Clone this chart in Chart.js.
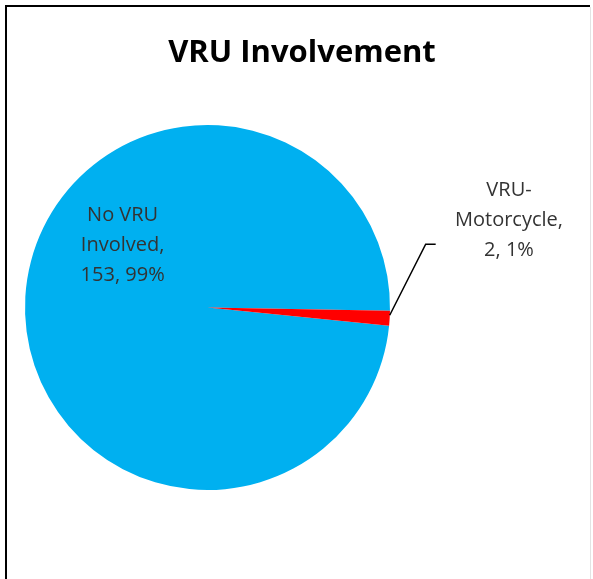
<!DOCTYPE html>
<html>
<head>
<meta charset="utf-8">
<script src="https://cdn.jsdelivr.net/npm/chart.js@4"></script>
<style>
  html, body { margin: 0; padding: 0; background: #fff; }
  #wrap { position: absolute; left: 0; top: 0; width: 593px; height: 579px; }
</style>
</head>
<body>
<div id="wrap"><canvas id="pieChart" width="593" height="579"></canvas></div>
<script>
// DATOS
const titulo = "VRU Involvement";
const categorias = ["No VRU Involved", "VRU-Motorcycle"];
const valores = [153, 2];
const porcentajes = ["99%", "1%"];
const colores = ["#00B0F0", "#FF0000"];

// etiquetas de Excel partidas en lineas
const lineasEtiqueta = [
  ["No VRU", "Involved,", valores[0] + ", " + porcentajes[0]],
  ["VRU-", "Motorcycle,", valores[1] + ", " + porcentajes[1]],
];

// PLUGIN: borde, titulo y etiquetas
const decoracion = {
  id: "decoracion",
  beforeDraw(chart) {
    const { ctx } = chart;
    ctx.save();
    ctx.fillStyle = "#fff";
    ctx.fillRect(0, 0, chart.width, chart.height);
    ctx.strokeStyle = "#e3e3e3";
    ctx.lineWidth = 1;
    ctx.beginPath();
    ctx.moveTo(590.5, 7);
    ctx.lineTo(590.5, chart.height);
    ctx.stroke();
    ctx.strokeStyle = "#000";
    ctx.lineWidth = 2;
    ctx.beginPath();
    ctx.moveTo(6, chart.height);
    ctx.lineTo(6, 6);
    ctx.lineTo(590, 6);
    ctx.stroke();
    ctx.restore();
  },
  afterDraw(chart) {
    const { ctx } = chart;
    const arcs = chart.getDatasetMeta(0).data;
    ctx.save();

    // titulo
    ctx.font = "bold 31px 'Open Sans'";
    ctx.fillStyle = "#000";
    ctx.textAlign = "center";
    ctx.textBaseline = "alphabetic";
    ctx.fillText(titulo, 302, 62);

    ctx.font = "20px 'Open Sans'";
    ctx.fillStyle = "#333333";
    ctx.textBaseline = "middle";

    // etiqueta dentro de la porcion grande
    const a0 = arcs[0];
    const lx = a0.x - a0.outerRadius * 0.465;
    const ly = a0.y - a0.outerRadius * 0.34;
    lineasEtiqueta[0].forEach((t, i) => ctx.fillText(t, lx, ly + (i - 1) * 30));

    // etiqueta exterior con linea guia
    const a1 = arcs[1];
    const mid = (a1.startAngle + a1.endAngle) / 2;
    const px = a1.x + Math.cos(mid) * a1.outerRadius;
    const py = a1.y + Math.sin(mid) * a1.outerRadius - 3;
    const ex = px + 36;
    const ey = py - 71;
    ctx.strokeStyle = "#000";
    ctx.lineWidth = 1.5;
    ctx.beginPath();
    ctx.moveTo(px, py);
    ctx.lineTo(ex, ey);
    ctx.lineTo(ex + 10, ey);
    ctx.stroke();

    const tx = 509;
    const ty = 220;
    lineasEtiqueta[1].forEach((t, i) => ctx.fillText(t, tx, ty + (i - 1) * 30));
    ctx.restore();
  },
};

const CHART = document.getElementById("pieChart");

let pieChart = new Chart(CHART, {
  type: "pie",
  data: {
    labels: categorias,
    datasets: [
      {
        data: valores,
        backgroundColor: colores,
        borderWidth: 0,
        hoverOffset: 0,
        offset: 0,
      },
    ],
  },
  options: {
    responsive: false,
    animation: false,
    rotation: 95.7,
    layout: {
      padding: { top: 125, left: 25, right: 203, bottom: 89 },
    },
    plugins: {
      legend: { display: false },
      tooltip: { enabled: false },
      title: { display: false },
    },
  },
  plugins: [decoracion],
});
</script>
</body>
</html>
